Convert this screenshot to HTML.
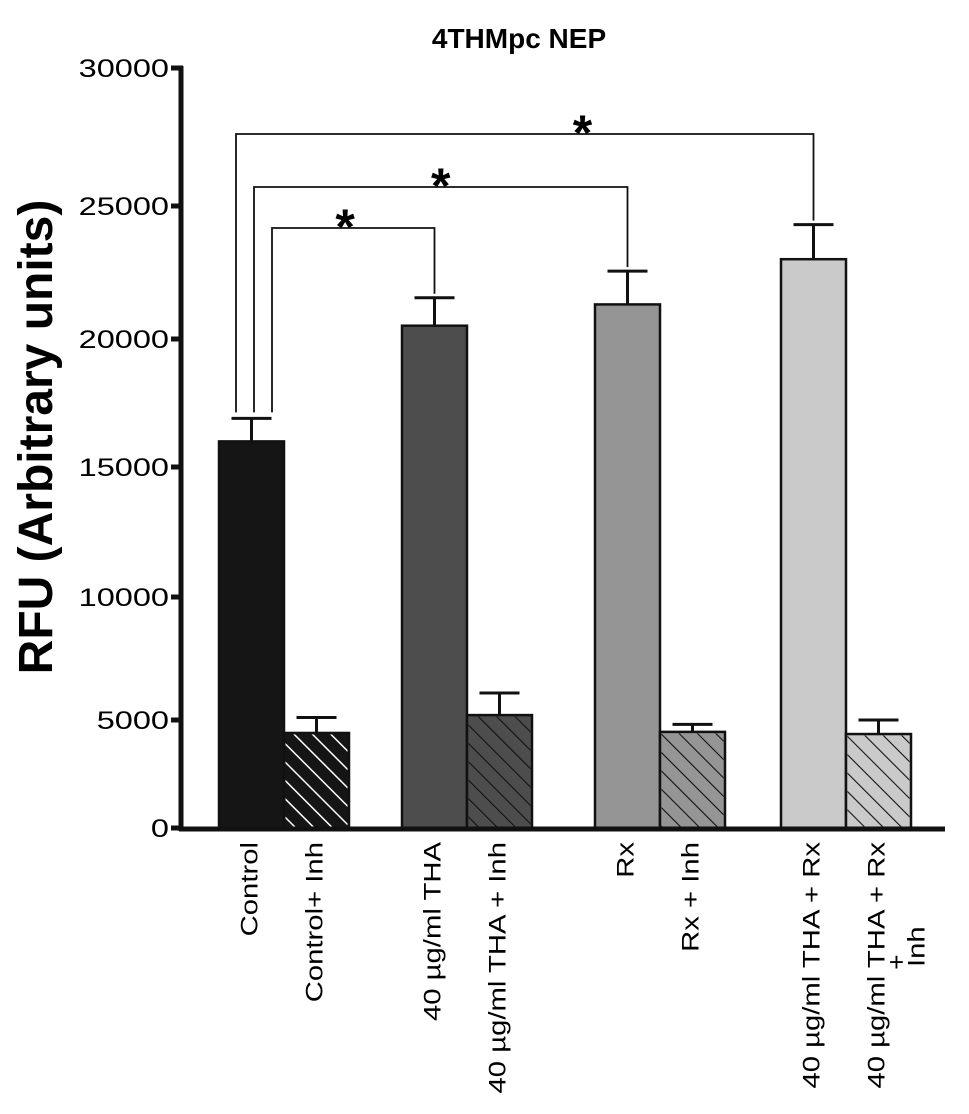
<!DOCTYPE html>
<html><head><meta charset="utf-8"><style>
html,body{margin:0;padding:0;background:#fff;}
svg{display:block;font-family:"Liberation Sans",Arial,sans-serif;}
</style></head><body>
<svg id="chart" width="969" height="1114" viewBox="0 0 969 1114">
<defs>
<pattern id="hatchW" patternUnits="userSpaceOnUse" width="13" height="13" patternTransform="rotate(-45)"><line x1="0" y1="0" x2="0" y2="13" stroke="#fff" stroke-width="3"/></pattern>
<pattern id="hatchK" patternUnits="userSpaceOnUse" width="13" height="13" patternTransform="rotate(-45)"><line x1="0" y1="0" x2="0" y2="13" stroke="#111" stroke-width="2.2"/></pattern>
</defs>
<text x="519" y="48" font-size="28" font-weight="bold" text-anchor="middle">4THMpc NEP</text>
<text transform="translate(52,437) rotate(-90)" font-size="48" font-weight="bold" text-anchor="middle">RFU (Arbitrary units)</text>
<g id="bars"></g>
<g id="axes"></g>
<g id="sig"></g>
</svg>
<script>
const categories = ["Control","Control+ Inh","40 µg/ml THA","40 µg/ml THA + Inh","Rx","Rx + Inh","40 µg/ml THA + Rx","40 µg/ml THA + Rx + Inh"];
const values = [16000, 4400, 20500, 5200, 21300, 4450, 23000, 4350];
const errors = [900, 700, 1050, 900, 1250, 350, 1300, 650];
const fills = ["#151515","#151515","#4d4d4d","#4d4d4d","#959595","#959595","#cacaca","#cacaca"];
const yTicks = [0,5000,10000,15000,20000,25000,30000];
const sigPairs = [[0,6],[0,4],[0,2]];

const NS="http://www.w3.org/2000/svg";
const tickPx=[828,720,597,467,339,206,68];
function y(v){
  for(let i=0;i<yTicks.length-1;i++){
    if(v<=yTicks[i+1]||i===yTicks.length-2){
      const t=(v-yTicks[i])/(yTicks[i+1]-yTicks[i]);
      return tickPx[i]+t*(tickPx[i+1]-tickPx[i]);
    }
  }
}
const groupLeft=[219,402,595,781], barW=65;
function xLeft(i){return groupLeft[Math.floor(i/2)]+(i%2)*barW;}
function mk(tag,attrs,parent){const e=document.createElementNS(NS,tag);for(const k in attrs)e.setAttribute(k,attrs[k]);parent.appendChild(e);return e;}

const bars=document.getElementById('bars');
values.forEach((v,i)=>{
  const x=xLeft(i), top=y(v), base=y(0);
  const r=mk('rect',{x:x,y:top,width:barW,height:base-top,fill:fills[i],stroke:'#111','stroke-width':2.5},bars);
  
  
  if(i%2===1){
    const h=mk('rect',{x:x+1.5,y:top+1.5,width:barW-3,height:base-top-3,fill:i===1?'url(#hatchW)':'url(#hatchK)'},bars);
    
    
  }
  const cx=x+barW/2, et=y(v+errors[i]);
  const e=mk('path',{d:`M${cx},${top} V${et} M${cx-20},${et} H${cx+20}`,stroke:'#111','stroke-width':3,fill:'none'},bars);
  
  
  if(i===7){
    const t=mk('text',{transform:`translate(${cx+6},842) rotate(-90) scale(1.22,1)`,'font-size':24,'text-anchor':'end'},bars);
    t.textContent="40 µg/ml THA + Rx";
    
    
    const t2=mk('text',{transform:`translate(${cx+46},967) rotate(-90) scale(1.22,1)`,'font-size':24,'text-anchor':'start'},bars);
    t2.textContent="Inh";
    
    
    const p=mk('text',{x:cx+18,y:971,'font-size':26,'text-anchor':'middle'},bars);
    p.textContent="+";
    
    
  } else {
    const t=mk('text',{transform:`translate(${cx+6},842) rotate(-90) scale(1.22,1)`,'font-size':24,'text-anchor':'end'},bars);
    t.textContent=categories[i];
    
    
  }
});

const axes=document.getElementById('axes');
const ya=mk('line',{x1:181,y1:y(30000)-2,x2:181,y2:y(0)+3,stroke:'#111','stroke-width':5},axes);


const xa=mk('line',{x1:179,y1:y(0)+1,x2:945,y2:y(0)+1,stroke:'#111','stroke-width':5},axes);


yTicks.forEach(tv=>{
  const ty=y(tv);
  const tl=mk('line',{x1:171,y1:ty,x2:183,y2:ty,stroke:'#111','stroke-width':5},axes);
  
  
  const tx=mk('text',{transform:`translate(169,${ty+9}) scale(1.3,1)`,'font-size':25,'text-anchor':'end'},axes);
  tx.textContent=tv;
  
  
});

const sig=document.getElementById('sig');
const levels=[134,187,228], leftX=[236,254,272], starFrac=[0.6,0.5,0.45];
sigPairs.forEach((p,k)=>{
  const a=p[0], b=p[1];
  const startY=y(values[a]+errors[a])-6;
  const bx=xLeft(b)+barW/2;
  const endY=y(values[b]+errors[b])-4;
  const yl=levels[k];
  const s=mk('path',{d:`M${leftX[k]},${startY} V${yl} H${bx} V${endY}`,stroke:'#111','stroke-width':1.8,fill:'none'},sig);
  
  
  const st=mk('text',{x:leftX[k]+(bx-leftX[k])*starFrac[k],y:yl+16,'font-size':50,'font-weight':'bold','text-anchor':'middle'},sig);
  st.textContent="*";
  
  
});
</script>
</body></html>
